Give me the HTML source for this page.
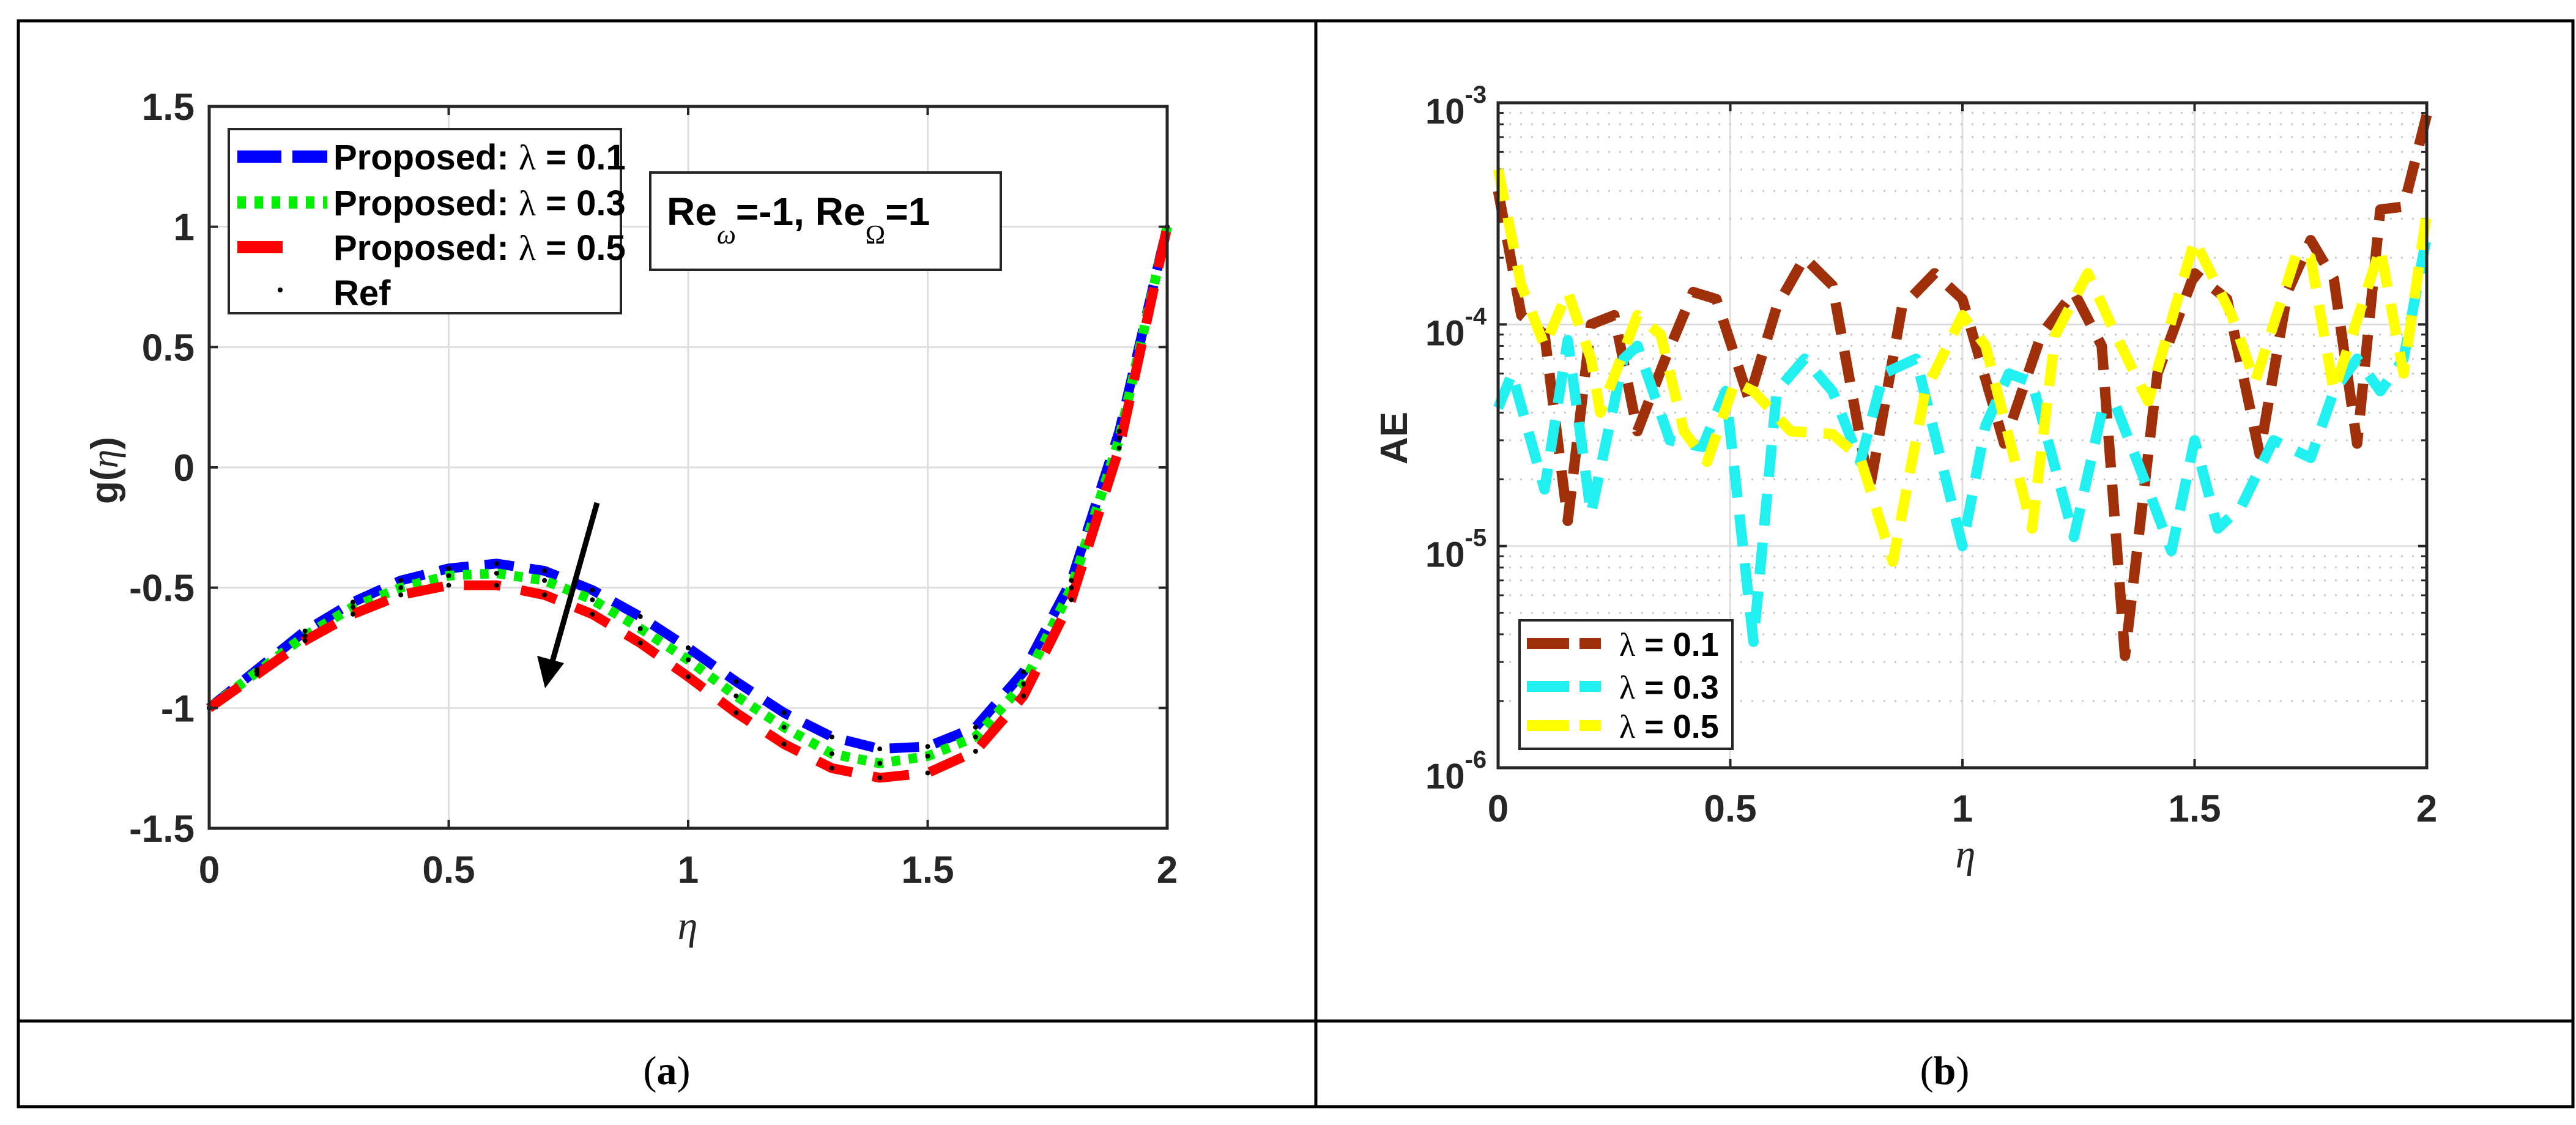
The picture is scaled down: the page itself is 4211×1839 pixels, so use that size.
<!DOCTYPE html>
<html><head><meta charset="utf-8"><style>
html,body{margin:0;padding:0;background:#fff}
svg{display:block}
text{font-family:"Liberation Sans",Arial,sans-serif}
</style></head><body>
<svg id="fig" width="4211" height="1839" viewBox="0 0 4211 1839" xmlns="http://www.w3.org/2000/svg">
<rect x="0" y="0" width="4211" height="1839" fill="#fff"/>
<g stroke="#000" stroke-width="5" fill="none">
<rect x="30" y="34" width="4176" height="1775"/>
<line x1="30" y1="1669" x2="4206" y2="1669"/>
<line x1="2151" y1="34" x2="2151" y2="1809"/>
</g>
<text x="1090" y="1772" text-anchor="middle" font-size="66" style="font-family:'Liberation Serif',serif">(<tspan font-weight="bold">a</tspan>)</text>
<text x="3179" y="1772" text-anchor="middle" font-size="66" style="font-family:'Liberation Serif',serif">(<tspan font-weight="bold">b</tspan>)</text>
<g id="left"></g>
<g id="right"></g>
</svg>
<script>
// ---------- Chart (a) data ----------
const etaA = [0,0.1,0.2,0.3,0.4,0.5,0.6,0.7,0.8,0.9,1.0,1.1,1.2,1.3,1.4,1.5,1.6,1.7,1.8,1.9,2.0];
const gLam01 = [-1,-0.84,-0.68,-0.56,-0.47,-0.42,-0.40,-0.43,-0.51,-0.62,-0.75,-0.89,-1.02,-1.12,-1.17,-1.16,-1.08,-0.85,-0.47,0.15,1.0];
const gLam03 = [-1,-0.85,-0.70,-0.58,-0.50,-0.45,-0.44,-0.47,-0.55,-0.67,-0.80,-0.95,-1.08,-1.19,-1.23,-1.20,-1.12,-0.90,-0.50,0.12,1.0];
const gLam05 = [-1,-0.86,-0.72,-0.61,-0.53,-0.49,-0.49,-0.53,-0.61,-0.73,-0.87,-1.02,-1.15,-1.25,-1.29,-1.27,-1.18,-0.95,-0.55,0.08,1.0];
const xTicksA = [0,0.5,1,1.5,2];
const xTickLabelsA = ["0","0.5","1","1.5","2"];
const yTicksA = [-1.5,-1,-0.5,0,0.5,1,1.5];
const yTickLabelsA = ["-1.5","-1","-0.5","0","0.5","1","1.5"];

// ---------- Chart (b) data ----------
const etaB1 = [0,0.05,0.1,0.15,0.2,0.25,0.3,0.36,0.42,0.47,0.54,0.6,0.66,0.72,0.8,0.87,0.94,1.0,1.09,1.17,1.24,1.3,1.35,1.42,1.5,1.57,1.64,1.7,1.75,1.8,1.85,1.9,1.95,2.0];
const aeLam01 = [4e-4,1.1e-4,9e-5,1.3e-5,1.0e-4,1.1e-4,3.3e-5,7e-5,1.4e-4,1.3e-4,4.6e-5,1.2e-4,2.0e-4,1.5e-4,1.8e-5,1.2e-4,1.7e-4,1.3e-4,2.9e-5,9e-5,1.4e-4,8e-5,3.2e-6,6e-5,1.7e-4,1.3e-4,2.6e-5,1.4e-4,2.4e-4,1.6e-4,2.9e-5,3.3e-4,3.4e-4,8.8e-4];
const etaB3 = [0,0.03,0.1,0.15,0.2,0.27,0.3,0.37,0.44,0.49,0.55,0.6,0.66,0.72,0.78,0.83,0.9,1.0,1.05,1.1,1.15,1.24,1.3,1.33,1.4,1.45,1.5,1.55,1.6,1.67,1.75,1.8,1.85,1.9,1.95,2.0];
const aeLam03 = [4.2e-5,6e-5,1.8e-5,8.5e-5,1.4e-5,7e-5,8e-5,3e-5,2.8e-5,5e-5,3.7e-6,5e-5,7e-5,5e-5,2.4e-5,6e-5,7e-5,1e-5,3.5e-5,6e-5,5.5e-5,1.1e-5,4e-5,4.3e-5,1.8e-5,9.5e-6,3e-5,1.2e-5,1.5e-5,3e-5,2.5e-5,5e-5,7e-5,5e-5,7e-5,2.5e-4];
const etaB5 = [0,0.05,0.1,0.15,0.2,0.22,0.3,0.35,0.4,0.45,0.51,0.55,0.63,0.72,0.78,0.85,0.92,1.0,1.05,1.15,1.2,1.27,1.33,1.4,1.5,1.58,1.63,1.72,1.75,1.8,1.9,1.95,2.0];
const aeLam05 = [5e-4,1.5e-4,8e-5,1.4e-4,7e-5,4e-5,1.1e-4,9e-5,3.3e-5,2.4e-5,5.5e-5,5e-5,3.3e-5,3.2e-5,2.5e-5,8.5e-6,5e-5,1.1e-4,8e-5,1.2e-5,9e-5,1.7e-4,9e-5,4.5e-5,2.4e-4,1.1e-4,5.5e-5,2.1e-4,2.0e-4,5e-5,2.2e-4,6e-5,3.2e-4];
const xTicksB = [0,0.5,1,1.5,2];
const xTickLabelsB = ["0","0.5","1","1.5","2"];
const yDecadesB = [-6,-5,-4,-3];

const NS = "http://www.w3.org/2000/svg";
function mk(tag, attrs, parent){ const e=document.createElementNS(NS,tag); for(const k in attrs) e.setAttribute(k,attrs[k]); if(parent) parent.appendChild(e); return e; }
function pathFrom(xs, ys, fx, fy){ return xs.map((x,i)=>(i?"L":"M")+fx(x).toFixed(1)+","+fy(ys[i]).toFixed(1)).join(" "); }
const LAM = '<tspan font-weight="normal" style="font-family:\'Liberation Serif\',serif">λ</tspan>';

// ===== Chart (a) =====
(function(){
  const G=document.getElementById('left');
  const L=342,R=1908,T=174,B=1354;
  const fx=v=>L+(v-0)/(2-0)*(R-L);
  const fy=v=>B-(v+1.5)/3*(B-T);
  const grid=mk('g',{},G);
  
  
  xTicksA.forEach(t=>{ mk('line',{x1:fx(t),y1:T,x2:fx(t),y2:B,stroke:'#dedede','stroke-width':3},grid); });
  yTicksA.forEach(t=>{ mk('line',{x1:L,y1:fy(t),x2:R,y2:fy(t),stroke:'#dedede','stroke-width':3},grid); });
  const sers=[[gLam01,'#0000ff','48 26','line-lambda-0.1'],[gLam03,'#00ee00','14 14','line-lambda-0.3'],[gLam05,'#ff0000','60 34','line-lambda-0.5']];
  sers.forEach(s=>{
    const p=mk('path',{d:pathFrom(etaA,s[0],fx,fy),fill:'none',stroke:s[1],'stroke-width':16,'stroke-dasharray':s[2]},G);
    
    
  });
  [gLam01,gLam03,gLam05].forEach(arr=>{
    arr.forEach((v,i)=>{ const c=mk('circle',{cx:fx(etaA[i]),cy:fy(v),r:4,fill:'#000'},G);
      
       });
  });
  mk('rect',{x:L,y:T,width:R-L,height:B-T,fill:'none',stroke:'#262626','stroke-width':5},G);
  xTicksA.forEach((t,i)=>{
    mk('line',{x1:fx(t),y1:B,x2:fx(t),y2:B-14,stroke:'#262626','stroke-width':4},G);
    mk('line',{x1:fx(t),y1:T,x2:fx(t),y2:T+14,stroke:'#262626','stroke-width':4},G);
    const tx=mk('text',{x:fx(t),y:1443,'text-anchor':'middle','font-size':62,'font-weight':'bold',fill:'#262626'},G);
    tx.textContent=xTickLabelsA[i];
    
    
  });
  yTicksA.forEach((t,i)=>{
    mk('line',{x1:L,y1:fy(t),x2:L+14,y2:fy(t),stroke:'#262626','stroke-width':4},G);
    mk('line',{x1:R,y1:fy(t),x2:R-14,y2:fy(t),stroke:'#262626','stroke-width':4},G);
    const tx=mk('text',{x:318,y:fy(t)+22,'text-anchor':'end','font-size':62,'font-weight':'bold',fill:'#262626'},G);
    tx.textContent=yTickLabelsA[i];
    
    
  });
  const xl=mk('text',{x:1124,y:1535,'text-anchor':'middle','font-size':66,'font-style':'italic',fill:'#262626',style:"font-family:'Liberation Serif',serif"},G);
  xl.textContent='η';
  
  
  const yl=mk('text',{x:0,y:0,'text-anchor':'middle','font-size':62,'font-weight':'bold',fill:'#262626',transform:'translate(192,769) rotate(-90)'},G);
  yl.innerHTML='g(<tspan font-style="italic" font-weight="normal" style="font-family:\'Liberation Serif\',serif">η</tspan>)';
  
  
  // legend
  const lg=mk('g',{},G);
  
  
  mk('rect',{x:374,y:211,width:641,height:301,fill:'#fff',stroke:'#262626','stroke-width':4},lg);
  const rows=[['#0000ff','72 18','0.1',256],['#00ee00','14 14','0.3',331],['#ff0000','74 200','0.5',404]];
  rows.forEach(r=>{
    mk('line',{x1:388,y1:r[3],x2:535,y2:r[3],stroke:r[0],'stroke-width':20,'stroke-dasharray':r[1]},lg);
    const t=mk('text',{x:545,y:r[3]+21,'font-size':58,'font-weight':'bold',fill:'#000','xml:space':'preserve'},lg);
    t.innerHTML='Proposed: '+LAM+'  = '+r[2];
    
    
  });
  mk('circle',{cx:458,cy:474,r:4,fill:'#000'},lg);
  const rt=mk('text',{x:545,y:499,'font-size':58,'font-weight':'bold',fill:'#000'},lg);
  rt.textContent='Ref';
  
  
  // annotation
  const an=mk('g',{},G);
  
  
  mk('rect',{x:1063,y:282,width:573,height:159,fill:'#fff',stroke:'#262626','stroke-width':4},an);
  const at=mk('text',{x:1090,y:368,'font-size':64,'font-weight':'bold',fill:'#000'},an);
  at.innerHTML='Re<tspan dy="30" font-size="44" font-weight="normal" font-style="italic" style="font-family:\'Liberation Serif\',serif">ω</tspan><tspan dy="-30">=-1, Re</tspan><tspan dy="30" font-size="44" font-weight="normal" style="font-family:\'Liberation Serif\',serif">Ω</tspan><tspan dy="-30">=1</tspan>';
  // arrow
  const ar=mk('g',{},G);
  
  
  mk('line',{x1:976,y1:822,x2:902,y2:1085,stroke:'#000','stroke-width':9},ar);
  mk('polygon',{points:'891,1125 878,1072 922,1084',fill:'#000'},ar);
})();

// ===== Chart (b) =====
(function(){
  const G=document.getElementById('right');
  const L=2449,R=3967,T=168,B=1255;
  const fx=v=>L+v/2*(R-L);
  const fy=v=>B-(Math.log10(v)+6)/3*(B-T);
  const grid=mk('g',{},G);
  
  
  xTicksB.forEach(t=>{ mk('line',{x1:fx(t),y1:T,x2:fx(t),y2:B,stroke:'#dedede','stroke-width':3},grid); });
  yDecadesB.forEach(d=>{
    mk('line',{x1:L,y1:fy(Math.pow(10,d)),x2:R,y2:fy(Math.pow(10,d)),stroke:'#dedede','stroke-width':3},grid);
    if(d<-3){ for(let m=2;m<=9;m++){ const yy=fy(m*Math.pow(10,d));
      mk('line',{x1:L,y1:yy,x2:R,y2:yy,stroke:'#c8c8c8','stroke-width':3,'stroke-dasharray':'3 15'},grid);
      mk('line',{x1:L,y1:yy,x2:L+9,y2:yy,stroke:'#262626','stroke-width':3},G);
      mk('line',{x1:R,y1:yy,x2:R-9,y2:yy,stroke:'#262626','stroke-width':3},G); } }
  });
  const sers=[[etaB1,aeLam01,'#a0300a','line-ae-lambda-0.1'],[etaB3,aeLam03,'#20f0f0','line-ae-lambda-0.3'],[etaB5,aeLam05,'#ffff00','line-ae-lambda-0.5']];
  sers.forEach(s=>{
    const p=mk('path',{d:pathFrom(s[0],s[1],fx,fy),fill:'none',stroke:s[2],'stroke-width':17,'stroke-dasharray':'52 28','stroke-linejoin':'round'},G);
    
    
  });
  mk('rect',{x:L,y:T,width:R-L,height:B-T,fill:'none',stroke:'#262626','stroke-width':5},G);
  xTicksB.forEach((t,i)=>{
    mk('line',{x1:fx(t),y1:B,x2:fx(t),y2:B-14,stroke:'#262626','stroke-width':4},G);
    mk('line',{x1:fx(t),y1:T,x2:fx(t),y2:T+14,stroke:'#262626','stroke-width':4},G);
    const tx=mk('text',{x:fx(t),y:1343,'text-anchor':'middle','font-size':62,'font-weight':'bold',fill:'#262626'},G);
    tx.textContent=xTickLabelsB[i];
    
    
  });
  yDecadesB.forEach(d=>{
    const yy=fy(Math.pow(10,d));
    mk('line',{x1:L,y1:yy,x2:L+14,y2:yy,stroke:'#262626','stroke-width':4},G);
    mk('line',{x1:R,y1:yy,x2:R-14,y2:yy,stroke:'#262626','stroke-width':4},G);
    const tx=mk('text',{x:2330,y:yy+34,'font-size':58,'font-weight':'bold',fill:'#262626'},G);
    tx.innerHTML='10<tspan dy="-34" font-size="40">'+d+'</tspan>';
    
    
  });
  const xl=mk('text',{x:3213,y:1418,'text-anchor':'middle','font-size':66,'font-style':'italic',fill:'#262626',style:"font-family:'Liberation Serif',serif"},G);
  xl.textContent='η';
  
  
  const yl=mk('text',{x:0,y:0,'text-anchor':'middle','font-size':62,'font-weight':'bold',fill:'#262626',transform:'translate(2300,716) rotate(-90)'},G);
  yl.textContent='AE';
  
  
  const lg=mk('g',{},G);
  
  
  mk('rect',{x:2484,y:1014,width:348,height:210,fill:'#fff',stroke:'#262626','stroke-width':4},lg);
  const rows=[['#a0300a',' = 0.1',1052],['#20f0f0','  = 0.3',1122],['#ffff00','  = 0.5',1186]];
  rows.forEach(r=>{
    mk('line',{x1:2496,y1:r[2],x2:2636,y2:r[2],stroke:r[0],'stroke-width':18,'stroke-dasharray':'69 17 35 200'},lg);
    const t=mk('text',{x:2647,y:r[2]+20,'font-size':54,'font-weight':'bold',fill:'#000','xml:space':'preserve'},lg);
    t.innerHTML=LAM+r[1];
    
    
  });
})();
</script>
</body></html>
